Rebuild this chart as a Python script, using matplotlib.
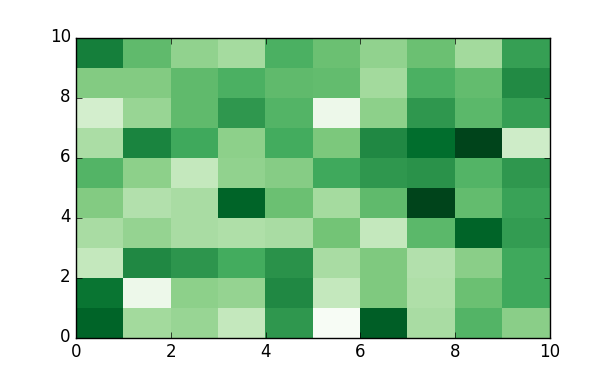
import numpy as np
import matplotlib
matplotlib.use('Agg')
import matplotlib.pyplot as plt

plt.style.use('classic')

# cell values, row 0 = bottom row (y 0..1)
row0 = [0.90, 0.37, 0.40, 0.26, 0.70, 0.00, 0.92, 0.35, 0.58, 0.44]
row1 = [0.84, 0.07, 0.43, 0.41, 0.76, 0.26, 0.47, 0.33, 0.52, 0.63]
row2 = [0.26, 0.76, 0.71, 0.62, 0.72, 0.35, 0.47, 0.32, 0.44, 0.63]
row3 = [0.35, 0.41, 0.35, 0.33, 0.35, 0.50, 0.26, 0.56, 0.90, 0.68]
row4 = [0.46, 0.32, 0.35, 0.90, 0.52, 0.36, 0.55, 1.00, 0.54, 0.66]
row5 = [0.58, 0.43, 0.26, 0.42, 0.45, 0.63, 0.70, 0.72, 0.58, 0.70]
row6 = [0.34, 0.78, 0.63, 0.43, 0.62, 0.48, 0.76, 0.87, 1.00, 0.22]
row7 = [0.20, 0.40, 0.55, 0.70, 0.58, 0.07, 0.43, 0.70, 0.56, 0.67]
row8 = [0.46, 0.46, 0.55, 0.60, 0.55, 0.54, 0.37, 0.60, 0.54, 0.75]
row9 = [0.80, 0.55, 0.42, 0.36, 0.60, 0.52, 0.42, 0.52, 0.37, 0.67]

data = np.array([row0, row1, row2, row3, row4, row5, row6, row7, row8, row9])

fig = plt.figure(figsize=(6.11, 3.75), dpi=100)
ax = fig.add_subplot(111)
ax.pcolor(data, cmap='Greens')
ax.set_xlim(0, 10)
ax.set_ylim(0, 10)

fig.savefig('out.png', dpi=100)
